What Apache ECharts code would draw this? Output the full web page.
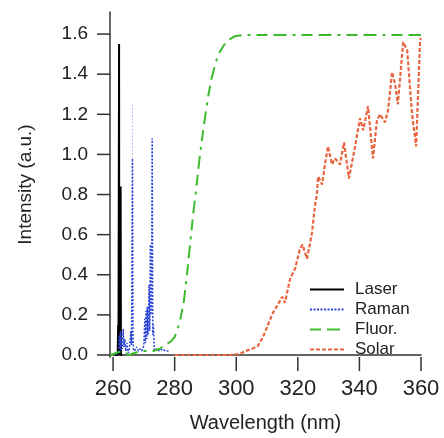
<!DOCTYPE html>
<html>
<head>
<meta charset="utf-8">
<script src="https://cdn.jsdelivr.net/npm/echarts@6/dist/echarts.min.js"></script>
<style>
  html, body { margin: 0; padding: 0; background: #fff; }
  #spectra { width: 444px; height: 438px; }
</style>
</head>
<body>
<div id="spectra"></div>
<script>
// wavelength (nm), intensity (a.u.)
const laser = [
  [260.5, 0], [261.5, 0], [261.65, 0.15], [261.75, 0], [261.9, 0], [261.95, 1.55], [262.0, 0],
  [262.3, 0], [262.45, 0.84], [262.55, 0], [263.0, 0]
];
const raman = [
  [261.0, 0], [261.8, 0.02], [262.0, 0.1], [262.2, 0.03], [262.4, 0.12], [262.6, 0.02], [262.8, 0.09],
  [263.0, 0.03], [263.3, 0.13], [263.5, 0.04], [263.8, 0.08], [264.1, 0.02], [264.5, 0.06], [264.9, 0.01],
  [265.3, 0.03], [265.8, 0.12], [266.0, 0.05], [266.3, 0.98], [266.45, 0.1], [266.6, 0.03], [267.0, 0.02],
  [267.6, 0.04], [268.2, 0.02], [268.8, 0.03], [269.4, 0.02], [270.0, 0.05], [270.3, 0.18], [270.5, 0.06],
  [270.7, 0.22], [270.9, 0.08], [271.1, 0.24], [271.3, 0.1], [271.5, 0.2], [271.7, 0.35], [271.9, 0.12],
  [272.1, 0.55], [272.3, 0.2], [272.5, 0.3], [272.7, 1.08], [272.9, 0.1], [273.1, 0.15], [273.4, 0.02],
  [274.0, 0.03], [275.0, 0.02], [276.0, 0.03], [277.0, 0.02], [278.0, 0.02]
];
const ramanFaint = [[266.3, 0.98], [266.3, 1.25]];
const fluor = [
  [259.0, 0], [261.0, 0.01], [263.0, 0.02], [265.0, 0.0], [267.0, 0.01], [269.0, 0.02], [271.0, 0.02],
  [273.0, 0.02], [275.0, 0.03], [276.0, 0.04], [277.0, 0.05], [278.0, 0.06], [279.0, 0.07], [280.0, 0.09],
  [281.0, 0.13], [282.0, 0.19], [283.0, 0.27], [284.0, 0.4], [285.0, 0.55], [286.0, 0.7], [287.0, 0.83],
  [288.0, 0.97], [289.0, 1.09], [290.0, 1.2], [291.0, 1.3], [292.0, 1.38], [293.0, 1.44], [294.0, 1.49],
  [295.0, 1.52], [296.0, 1.545], [297.0, 1.56], [298.0, 1.575], [299.0, 1.585], [300.0, 1.59],
  [302.0, 1.595], [360.0, 1.595]
];
const solar = [
  [280, 0], [290, 0], [298, 0], [301, 0.005], [303, 0.02], [305, 0.03], [307, 0.045], [308.7, 0.09],
  [310.3, 0.15], [311.9, 0.21], [313.5, 0.25], [314.9, 0.29], [315.8, 0.26], [317.5, 0.38], [319.1, 0.43],
  [320.7, 0.53], [321.5, 0.55], [323, 0.48], [324.6, 0.61], [325.6, 0.75], [326.2, 0.8], [326.6, 0.89],
  [327.9, 0.85], [328.8, 0.95], [329.8, 1.04], [331.1, 0.95], [332.1, 0.98], [333.7, 0.95], [335, 1.06],
  [336.6, 0.88], [338.6, 1.04], [340.2, 1.18], [341.2, 1.12], [342.8, 1.24], [344.4, 0.98], [345.7, 1.17],
  [346.7, 1.2], [348.3, 1.16], [349.3, 1.22], [350.6, 1.41], [351.6, 1.35], [352.5, 1.25], [354.2, 1.56],
  [355.5, 1.52], [357.1, 1.2], [358.4, 1.04], [359, 1.28], [359.7, 1.57], [360, 1.58]
];
const xTicks = [260, 280, 300, 320, 340, 360];
const yTicks = [0, 0.2, 0.4, 0.6, 0.8, 1.0, 1.2, 1.4, 1.6];

const font = 'Liberation Sans';
const xMin = 259, yMin = -0.01;

// series share this: symbols are off, legend keeps only the line
function lineSeries(name, data, color, width, type) {
  return {
    name: name, type: 'line', data: data, symbol: 'none',
    lineStyle: { color: color, width: width, type: type },
    itemStyle: { color: color, opacity: 0 }
  };
}

// outward tick marks as a custom series, placed by the axes' scales
function tickSeries(data, dx, dy) {
  return {
    type: 'custom', silent: true, clip: false, z: 10,
    data: data,
    renderItem: function (params, api) {
      const p = api.coord([api.value(0), api.value(1)]);
      return {
        type: 'line',
        shape: { x1: p[0], y1: p[1], x2: p[0] + dx, y2: p[1] + dy },
        style: { stroke: '#333', lineWidth: 1.5 }
      };
    }
  };
}

let option = {
  animation: false,
  grid: { left: 110, right: 23, top: 12, bottom: 69 },
  legend: {
    orient: 'vertical',
    left: 304,
    top: 276,
    itemWidth: 34,
    itemHeight: 14,
    itemGap: 3,
    textStyle: { fontFamily: font, fontSize: 17, color: '#222', padding: [0, 0, 0, 6] },
    data: ['Laser', 'Raman', 'Fluor.', 'Solar']
  },
  xAxis: {
    type: 'value',
    min: xMin,
    max: 360,
    name: 'Wavelength (nm)',
    nameLocation: 'middle',
    nameGap: 56,
    nameTextStyle: { fontFamily: font, fontSize: 20, color: '#222' },
    axisLine: { lineStyle: { color: '#333', width: 1.5 } },
    axisTick: { show: false },
    axisLabel: { customValues: xTicks, margin: 21, fontFamily: font, fontSize: 22, color: '#222' },
    splitLine: { show: false }
  },
  yAxis: {
    type: 'value',
    min: yMin,
    max: 1.71,
    name: 'Intensity (a.u.)',
    nameLocation: 'middle',
    nameGap: 75,
    nameTextStyle: { fontFamily: font, fontSize: 19, color: '#222' },
    axisLine: { show: true, lineStyle: { color: '#333', width: 1.5 } },
    axisTick: { show: false },
    axisLabel: {
      customValues: yTicks, margin: 22, fontFamily: font, fontSize: 19, color: '#222',
      formatter: v => v.toFixed(1)
    },
    splitLine: { show: false }
  },
  series: [
    lineSeries('Laser', laser, '#000', 2, 'solid'),
    lineSeries('Raman', raman, '#2b44d8', 1.5, [2, 1.5]),
    lineSeries('Raman', ramanFaint, '#aab4ee', 1, [1.5, 2]),
    lineSeries('Fluor.', fluor, '#3cbb2c', 2, [11, 6, 13, 6, 3, 6]),
    lineSeries('Solar', solar, '#e8653f', 2.2, [4, 2]),
    tickSeries(xTicks.map(v => [v, yMin]), 0, 14),
    tickSeries(yTicks.map(v => [xMin, v]), -13, 0)
  ]
};

let myChart_spectra = echarts.init(document.getElementById('spectra'));
myChart_spectra.setOption(option);

window.addEventListener('resize', function () {
  myChart_spectra.resize();
}, false);
</script>
</body>
</html>
